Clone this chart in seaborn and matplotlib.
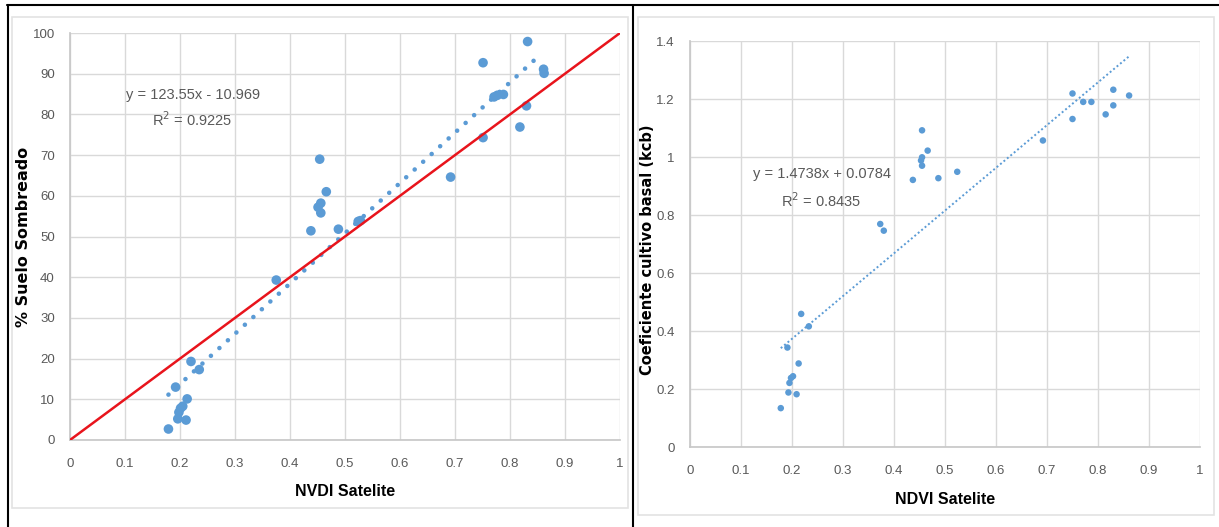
import numpy as np
import pandas as pd
import seaborn as sns
import matplotlib.pyplot as plt
from matplotlib.lines import Line2D
from matplotlib.patches import Rectangle
from matplotlib.ticker import FuncFormatter, MultipleLocator

# ---- datos ----
ndvi_sombra = [0.179, 0.192, 0.196, 0.198, 0.201, 0.205, 0.211, 0.213, 0.220, 0.235,
               0.375, 0.438, 0.451, 0.456, 0.456, 0.454, 0.466, 0.488, 0.524, 0.528,
               0.692, 0.751, 0.751, 0.771, 0.777, 0.788, 0.818, 0.830, 0.832, 0.861, 0.862]
suelo_sombreado = [2.7, 13.0, 5.2, 6.8, 7.8, 8.3, 4.9, 10.1, 19.3, 17.3,
                   39.3, 51.4, 57.2, 58.2, 55.8, 69.0, 61.0, 51.8, 53.7, 53.9,
                   64.6, 92.7, 74.3, 84.3, 84.7, 84.9, 76.9, 82.1, 97.9, 91.1, 90.1]

ndvi_kcb = [0.178, 0.191, 0.193, 0.195, 0.198, 0.202, 0.209, 0.213, 0.218, 0.233,
            0.373, 0.380, 0.437, 0.455, 0.453, 0.455, 0.455, 0.466, 0.487, 0.524,
            0.692, 0.750, 0.750, 0.771, 0.787, 0.815, 0.830, 0.830, 0.861]
kcb = [0.134, 0.343, 0.188, 0.221, 0.238, 0.244, 0.182, 0.288, 0.459, 0.416,
       0.769, 0.746, 0.921, 1.092, 0.988, 0.999, 0.970, 1.022, 0.927, 0.949,
       1.057, 1.219, 1.131, 1.190, 1.190, 1.147, 1.232, 1.178, 1.212]

# coeficientes de las lineas de tendencia (texto del grafico)
pend_1, orig_1, r2_1 = 123.55, -10.969, 0.9225
pend_2, orig_2, r2_2 = 1.4738, 0.0784, 0.8435

azul = '#5B9BD5'
gris_txt = '#595959'
gris_grid = '#D9D9D9'

sns.set_theme(style='white')
plt.rcParams['font.family'] = ['Liberation Sans', 'DejaVu Sans']

df1 = pd.DataFrame({'ndvi': ndvi_sombra, 'sombra': suelo_sombreado})
df2 = pd.DataFrame({'ndvi': ndvi_kcb, 'kcb': kcb})

fig = plt.figure(figsize=(12.19, 5.27), dpi=100)

# marcos de la tabla / area de grafico
fig.add_artist(Rectangle((12 / 1219, 1 - 508 / 527), 616 / 1219, 491 / 527,
                         transform=fig.transFigure, fill=False, edgecolor='#E3E3E3', lw=1.2))
fig.add_artist(Rectangle((638 / 1219, 1 - 515 / 527), 576 / 1219, 498 / 527,
                         transform=fig.transFigure, fill=False, edgecolor='#E3E3E3', lw=1.2))
fig.add_artist(Line2D([7 / 1219, 1], [1 - 5 / 527, 1 - 5 / 527], transform=fig.transFigure,
                      color='black', lw=1.5))
fig.add_artist(Line2D([7.5 / 1219, 7.5 / 1219], [0, 1 - 5 / 527], transform=fig.transFigure,
                      color='black', lw=1.5))
fig.add_artist(Line2D([633 / 1219, 633 / 1219], [0, 1 - 5 / 527], transform=fig.transFigure,
                      color='black', lw=1.5))

ax1 = fig.add_axes([70 / 1219, 87 / 527, 550 / 1219, 407 / 527])
ax2 = fig.add_axes([690 / 1219, 80 / 527, 510 / 1219, 406 / 527])

fmt = FuncFormatter(lambda v, p: f'{v:g}')


def estilo(ax, ymax, ystep):
    ax.set_xlim(0, 1)
    ax.set_ylim(0, ymax)
    ax.xaxis.set_major_locator(MultipleLocator(0.1))
    ax.yaxis.set_major_locator(MultipleLocator(ystep))
    ax.xaxis.set_major_formatter(fmt)
    ax.yaxis.set_major_formatter(fmt)
    ax.grid(True, color=gris_grid, lw=1)
    ax.set_axisbelow(True)
    for lado, sp in ax.spines.items():
        if lado in ('left', 'bottom'):
            sp.set_color('#C8C8C8')
        else:
            sp.set_visible(False)
    ax.tick_params(length=0, labelsize=9.5, labelcolor=gris_txt)
    ax.tick_params(axis='y', pad=11)
    ax.tick_params(axis='x', pad=13)
    ax.patch.set_alpha(0)


# ---- grafico 1 ----
x_t1 = np.linspace(min(ndvi_sombra), max(ndvi_sombra) - 0.01, 50)
ax1.plot(x_t1, pend_1 * x_t1 + orig_1, color=azul, lw=3.3, linestyle=(0, (0.01, 2.5)),
         dash_capstyle='round', solid_capstyle='round', zorder=2)
sns.scatterplot(data=df1, x='ndvi', y='sombra', ax=ax1, color=azul, s=48,
                edgecolor='none', zorder=3)
ax1.plot([0, 1], [0, 100], color='#E8141C', lw=1.8, zorder=4)
estilo(ax1, 100, 10)
ax1.set_xlabel('NVDI Satelite', fontsize=11.5, fontweight='bold', color='black')
ax1.xaxis.set_label_coords(0.5, -0.108)
ax1.set_ylabel('% Suelo Sombreado', family='DejaVu Sans', fontsize=11.5,
               fontweight='bold', color='black')
ax1.yaxis.set_label_coords(-0.071, 0.5)
ax1.text(0.223, 84.7, f'y = {pend_1}x - {abs(orig_1)}', ha='center', va='center',
         fontsize=10.5, color=gris_txt)
ax1.text(0.223, 78.8, f'R$^2$ = {r2_1}', ha='center', va='center',
         fontsize=10.5, color=gris_txt)

# ---- grafico 2 ----
x_t2 = np.linspace(min(ndvi_kcb), max(ndvi_kcb), 50)
ax2.plot(x_t2, pend_2 * x_t2 + orig_2, color=azul, lw=1.4, linestyle=(0, (1, 1.3)), zorder=2)
sns.scatterplot(data=df2, x='ndvi', y='kcb', ax=ax2, color=azul, s=22,
                edgecolor='none', zorder=3)
estilo(ax2, 1.4, 0.2)
ax2.set_xlabel('NDVI Satelite', fontsize=11.5, fontweight='bold', color='black')
ax2.xaxis.set_label_coords(0.5, -0.11)
ax2.set_ylabel('Coeficiente cultivo basal (kcb)', family='DejaVu Sans', fontsize=10.5,
               fontweight='bold', color='black')
ax2.yaxis.set_label_coords(-0.068, 0.485)
ax2.text(0.258, 0.941, f'y = {pend_2}x + {orig_2}', ha='center', va='center',
         fontsize=10.5, color=gris_txt)
ax2.text(0.258, 0.850, f'R$^2$ = {r2_2}', ha='center', va='center',
         fontsize=10.5, color=gris_txt)

fig.savefig('out.png', dpi=100)
